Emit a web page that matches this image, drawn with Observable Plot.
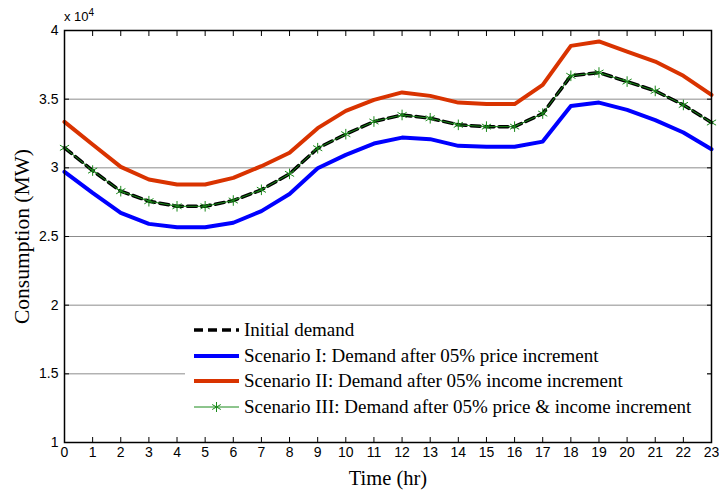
<!DOCTYPE html>
<html>
<head>
<meta charset="utf-8">
<script src="https://cdn.jsdelivr.net/npm/d3@7"></script>
<script src="https://cdn.jsdelivr.net/npm/@observablehq/plot@0.6"></script>
<style>
  body { margin: 0; background: #fff; }
  #wrap { position: relative; width: 719px; height: 492px; }
  #wrap svg { font-family: "Liberation Sans", Arial, sans-serif; font-size: 14px; }
  [aria-label="x-axis label"] text { font-family: "Liberation Serif", "Times New Roman", serif; font-size: 20.5px; }
  [aria-label="y-axis label"] text { font-family: "Liberation Serif", "Times New Roman", serif; font-size: 21.5px; }
  #exp { position: absolute; left: 64px; top: 7px; font: 13px "Liberation Sans", Arial, sans-serif; }
  #exp sup { font-size: 10px; }
  #legend { position: absolute; left: 185px; top: 311px; width: 522px; height: 116px; background: #fff;
            font: 19px "Liberation Serif", "Times New Roman", serif; color: #000; }
  .row { position: absolute; left: 9px; height: 22px; display: flex; align-items: center; white-space: nowrap; }
  .row svg { margin-right: 5px; }
</style>
</head>
<body>
<div id="wrap"></div>
<script>
const hours = [0,1,2,3,4,5,6,7,8,9,10,11,12,13,14,15,16,17,18,19,20,21,22,23];
const initialDemand = [31460,29800,28300,27570,27200,27200,27620,28400,29560,31430,32450,33370,33850,33610,33130,33000,33000,33950,36700,36940,36280,35600,34580,33300];
const scenario1 = [29710,28180,26720,25920,25680,25680,26000,26850,28100,29970,30940,31770,32200,32090,31600,31530,31530,31910,34510,34750,34220,33470,32570,31360];
const scenario2 = [33350,31700,30070,29150,28790,28790,29270,30120,31100,32890,34150,34950,35490,35240,34750,34640,34640,36040,38880,39200,38470,37740,36700,35310];
const scenario3 = [31460,29800,28300,27570,27200,27200,27620,28400,29560,31430,32450,33370,33850,33610,33130,33000,33000,33950,36700,36940,36280,35600,34580,33300];
const yTicks = [10000,15000,20000,25000,30000,35000,40000];
const seriesNames = [
  "Initial demand",
  "Scenario I: Demand after 05% price increment",
  "Scenario II: Demand after 05% income increment",
  "Scenario III: Demand after 05% price & income increment"
];

const mk = arr => hours.map((h, i) => ({hour: h, value: arr[i]}));
const dInit = mk(initialDemand), d1 = mk(scenario1), d2 = mk(scenario2), d3s = mk(scenario3);

const chart = Plot.plot({
  width: 719, height: 492,
  marginLeft: 64, marginRight: 8, marginTop: 30, marginBottom: 50,
  x: {domain: [0, 23], label: null},
  y: {domain: [10000, 40000], label: null},
  marks: [
    Plot.gridY(yTicks, {stroke: "#8c8c8c", strokeOpacity: 1, strokeWidth: 1}),
    Plot.axisX(hours, {anchor: "bottom", tickSize: -5, tickPadding: 10, tickFormat: d => String(d), label: "Time (hr)", labelAnchor: "center", labelOffset: 42, labelArrow: "none", fontSize: 14}),
    Plot.axisX(hours, {anchor: "top", tickSize: -5, tickFormat: () => "", label: null}),
    Plot.axisY(yTicks, {anchor: "left", tickSize: -5, tickPadding: 11, tickFormat: d => String(d / 10000), label: "Consumption (MW)", labelAnchor: "center", labelOffset: 51, labelArrow: "none", fontSize: 14}),
    Plot.axisY(yTicks, {anchor: "right", tickSize: -5, tickFormat: () => "", label: null}),
    Plot.line(d1, {x: "hour", y: "value", stroke: "#0000ff", strokeWidth: 4}),
    Plot.line(d2, {x: "hour", y: "value", stroke: "#d93300", strokeWidth: 4}),
    Plot.line(dInit, {x: "hour", y: "value", stroke: "#000", strokeWidth: 3.5, strokeDasharray: "9,5"}),
    Plot.line(d3s, {x: "hour", y: "value", stroke: "#1a8a1a", strokeWidth: 1}),
    Plot.dot(d3s, {x: "hour", y: "value", symbol: "asterisk", stroke: "#1a8a1a", strokeWidth: 1, r: 5}),
    Plot.frame({stroke: "#000", strokeWidth: 1.5})
  ]
});

const wrap = document.getElementById("wrap");
wrap.appendChild(chart);

const exp = document.createElement("div");
exp.id = "exp";
exp.innerHTML = "x 10<sup>4</sup>";
wrap.appendChild(exp);

const legend = document.createElement("div");
legend.id = "legend";
const samples = [
  '<line x1="0" y1="6" x2="45" y2="6" stroke="#000" stroke-width="3.5" stroke-dasharray="9,5"/>',
  '<line x1="0" y1="6" x2="45" y2="6" stroke="#0000ff" stroke-width="4"/>',
  '<line x1="0" y1="6" x2="45" y2="6" stroke="#d93300" stroke-width="4"/>',
  '<line x1="0" y1="6" x2="45" y2="6" stroke="#1a8a1a" stroke-width="1"/><g stroke="#1a8a1a" stroke-width="1"><line x1="22.5" y1="1" x2="22.5" y2="11"/><line x1="18.2" y1="3.5" x2="26.8" y2="8.5"/><line x1="18.2" y1="8.5" x2="26.8" y2="3.5"/></g>'
];
const rowTops = [8, 33.5, 59, 84.5];
seriesNames.forEach((name, i) => {
  const row = document.createElement("div");
  row.className = "row";
  row.style.top = rowTops[i] + "px";
  row.innerHTML = `<svg width="45" height="12">${samples[i]}</svg><span>${name}</span>`;
  legend.appendChild(row);
});
wrap.appendChild(legend);
</script>
</body>
</html>
